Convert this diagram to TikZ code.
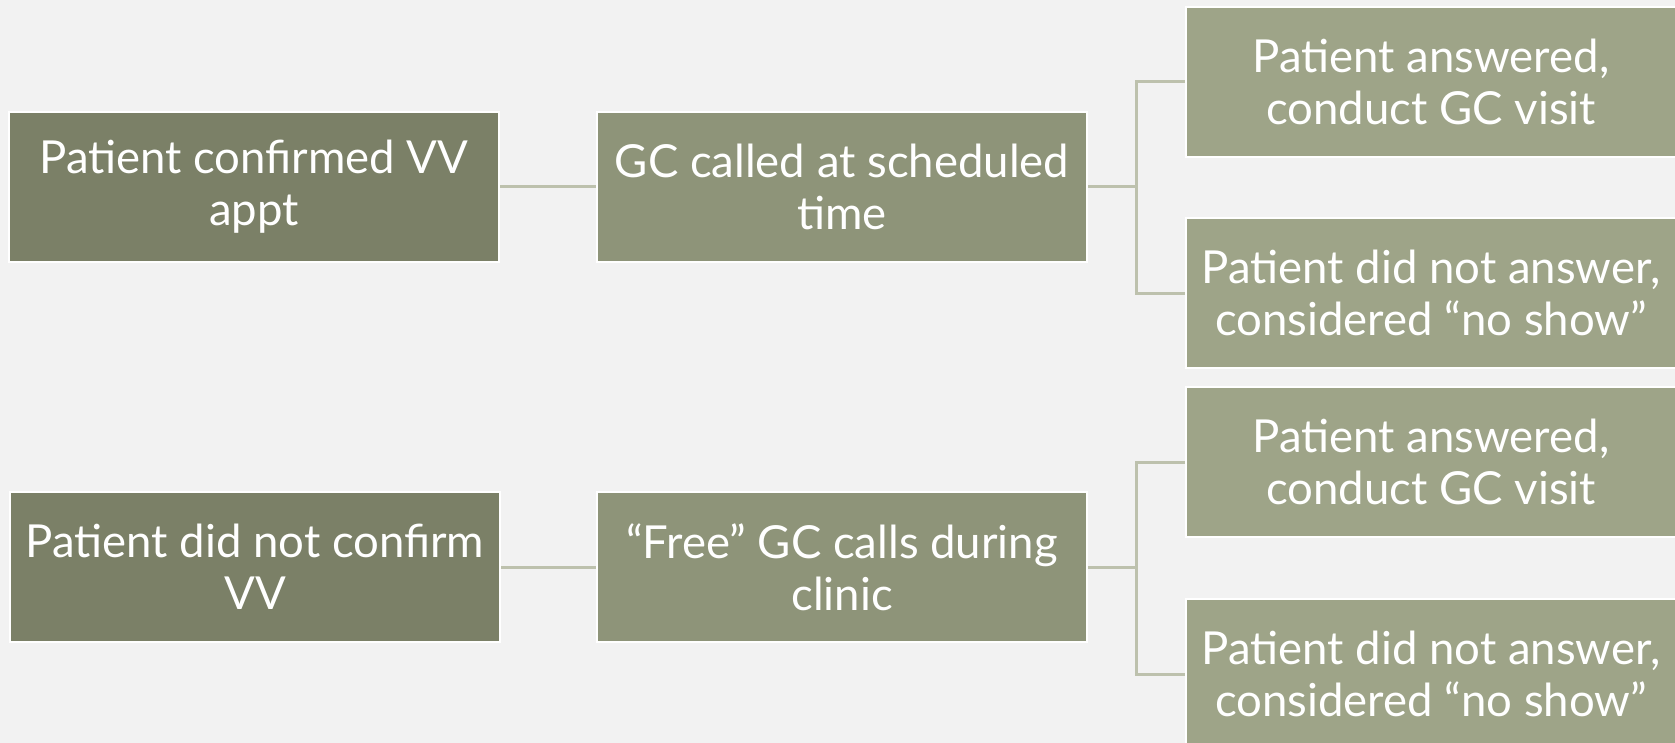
\documentclass[tikz,border=0pt]{standalone}
\usepackage{fontspec}
\setmainfont{Lato}
\definecolor{bgcol}{HTML}{F2F2F2}
\definecolor{darkbox}{HTML}{7B8067}
\definecolor{midbox}{HTML}{8E9479}
\definecolor{lightbox}{HTML}{9EA488}
\definecolor{linkcol}{HTML}{BDC1AD}
\begin{document}
\begin{tikzpicture}[x=1pt,y=-1pt,
  box/.style={draw=white,line width=2.5pt,text=white,align=center,
    minimum width=490pt,minimum height=150pt,inner sep=0pt,
    font=\fontsize{45.5}{52}\selectfont},
  link/.style={draw=linkcol,line width=3pt}]
\useasboundingbox (0,0) rectangle (1675,743);
\fill[bgcol] (0,0) rectangle (1675,743);
\clip (0,0) rectangle (1675,743);
% first row
\node[box,fill=darkbox] (conf) at (254,187) {Patient confirmed VV\\appt};
\node[box,fill=midbox] (called) at (842,187) {GC called at scheduled\\time};
\node[box,fill=lightbox] (answ1) at (1431,82) {Patient answered,\\conduct GC visit};
\node[box,fill=lightbox] (noansw1) at (1431,293) {Patient did not answer,\\considered “no show”};
% second row
\node[box,fill=darkbox] (noconf) at (255,567) {Patient did not confirm\\VV};
\node[box,fill=midbox] (free) at (842,567) {“Free” GC calls during\\clinic};
\node[box,fill=lightbox] (answ2) at (1431,462) {Patient answered,\\conduct GC visit};
\node[box,fill=lightbox] (noansw2) at (1431,674) {Patient did not answer,\\considered “no show”};
% connectors
\draw[link] (conf) -- (called);
\draw[link] (called.east) -- ++(48,0) coordinate (fork1);
\draw[link] (answ1.west) -| (fork1) |- (noansw1.west);
\draw[link] (noconf) -- (free);
\draw[link] (free.east) -- ++(48,0) coordinate (fork2);
\draw[link] (answ2.west) -| (fork2) |- (noansw2.west);
\end{tikzpicture}
\end{document}
